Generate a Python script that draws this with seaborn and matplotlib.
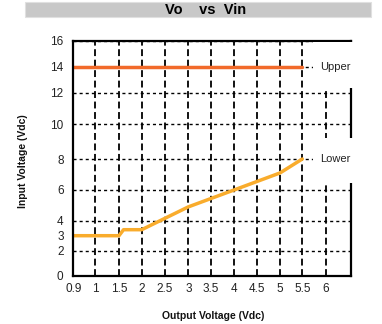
import numpy as np
import pandas as pd
import matplotlib
matplotlib.use("Agg")
import matplotlib.pyplot as plt
from matplotlib.patches import Rectangle
from matplotlib.scale import FuncScale
import seaborn as sns

# Operating range: input voltage limits against output voltage
vout_upper = [0.9, 5.5]
vin_upper = [14.0, 14.0]

vout_lower = [0.9, 1.5, 1.6, 2.0, 3.0, 4.0, 5.0, 5.5]
vin_lower = [3.0, 3.0, 3.4, 3.4, 4.9, 6.0, 7.1, 8.0]

x_ticks = [0.9, 1, 1.5, 2, 2.5, 3, 3.5, 4, 4.5, 5, 5.5, 6]
x_tick_labels = ["0.9", "1", "1.5", "2", "2.5", "3", "3.5", "4", "4.5", "5", "5.5", "6"]
y_grid_ticks = [0, 2, 4, 6, 8, 10, 12, 14, 16]
y_extra_ticks = [3]

series_names = ["Upper", "Lower"]
series_colors = ["#F26A2A", "#F9AC2C"]

df = pd.concat([
    pd.DataFrame({"Vout": vout_upper, "Vin": vin_upper, "limit": "Upper"}),
    pd.DataFrame({"Vout": vout_lower, "Vin": vin_lower, "limit": "Lower"}),
])

# Axis scales follow the chart's own (slightly uneven) grid spacing
x_knots = [0.9, 1, 1.5, 2, 2.5, 3, 3.5, 4, 4.5, 5, 5.5, 6, 6.5]
x_pos = [0, 21.7, 45.7, 68.4, 91.7, 115, 137.7, 160.7, 183.4, 206.7, 229, 252.4, 277.7]
y_knots = [0, 2, 4, 6, 8, 10, 12, 16]
y_pos = [0, 25.3, 55.3, 86, 117, 151.7, 183.3, 235.3]

sns.set_style("white")
plt.rcParams["font.family"] = ["Liberation Sans Narrow", "Liberation Sans", "DejaVu Sans"]

fig = plt.figure(figsize=(3.82, 3.24), dpi=100)
ax = fig.add_axes([73.3 / 382, 48 / 324, 277.7 / 382, 235.3 / 324])

ax.set_xscale(FuncScale(ax.xaxis, (lambda v: np.interp(v, x_knots, x_pos),
                                   lambda p: np.interp(p, x_pos, x_knots))))
ax.set_yscale(FuncScale(ax.yaxis, (lambda v: np.interp(v, y_knots, y_pos),
                                   lambda p: np.interp(p, y_pos, y_knots))))

sns.lineplot(data=df, x="Vout", y="Vin", hue="limit", hue_order=series_names,
             palette=series_colors, estimator=None, sort=False, legend=False,
             linewidth=2.5, ax=ax, zorder=2)

ax.set_xlim(0.9, 6.5)
ax.set_ylim(0, 16)

ax.set_xticks(x_ticks)
ax.set_xticklabels(x_tick_labels)
ax.set_xticks([], minor=True)
ax.set_yticks(y_grid_ticks)
ax.set_yticklabels([str(v) for v in y_grid_ticks])
ax.set_yticks(y_extra_ticks, minor=True)
ax.set_yticklabels([str(v) for v in y_extra_ticks], minor=True)

ax.tick_params(axis="both", which="both", length=0, labelsize=8.5, labelcolor="#222222")
ax.tick_params(axis="y", which="both", pad=7)
ax.tick_params(axis="x", which="both", pad=5)

ax.set_axisbelow(True)
ax.xaxis.grid(True, which="major", color="black", linewidth=1.3,
              linestyle=(0, (3.8, 2.0)))
ax.yaxis.grid(True, which="major", color="black", linewidth=1.0,
              linestyle=(0, (2.2, 2.2)))
ax.yaxis.grid(False, which="minor")

for side in ["left", "right", "top", "bottom"]:
    ax.spines[side].set_visible(True)
    ax.spines[side].set_color("black")
    ax.spines[side].set_linewidth(1.6)

# White panels holding the limit names at the right edge
for y0, h in [(0.80, 0.193), (0.395, 0.191)]:
    ax.add_patch(Rectangle((0.862, y0), 0.22, h, transform=ax.transAxes,
                           facecolor="white", edgecolor="none",
                           clip_on=False, zorder=3))

trans = ax.get_yaxis_transform()
ax.text(0.89, vin_upper[-1], series_names[0], transform=trans, ha="left",
        va="center", fontsize=8, color="#222222", zorder=4)
ax.text(0.89, vin_lower[-1], series_names[1], transform=trans, ha="left",
        va="center", fontsize=8, color="#222222", zorder=4)

ax.set_xlabel("Output Voltage (Vdc)", fontsize=7.5, fontweight="bold", color="#111111")
ax.set_ylabel("Input Voltage (Vdc)", fontsize=7.5, fontweight="bold", color="#111111")
ax.xaxis.set_label_coords(0.503, -0.148)
ax.yaxis.set_label_coords(-0.163, 0.49)

# Title banner
fig.patches.append(Rectangle((25 / 382, 1 - 17.3 / 324), 345.7 / 382, 15.6 / 324,
                             transform=fig.transFigure, facecolor="#C8C8C8",
                             edgecolor="#E0E0E0", linewidth=0.8, zorder=0))
fig.text(205.5 / 382, 1 - 9.8 / 324, "Vo    vs  Vin", ha="center", va="center",
         fontsize=10.5, fontweight="bold", color="black")

fig.savefig("out.png", dpi=100)
